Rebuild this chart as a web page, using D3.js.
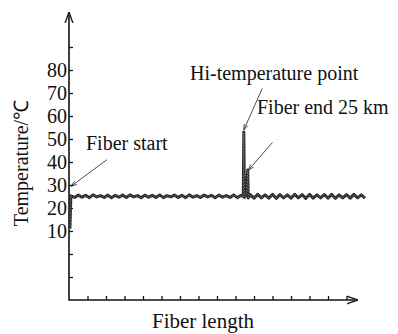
<!DOCTYPE html>
<html>
<head>
<meta charset="utf-8">
<script src="https://cdn.jsdelivr.net/npm/d3@7"></script>
<style>
  body { margin: 0; background: #fff; }
  svg text { font-family: "Liberation Serif", "Times New Roman", serif; fill: #111; }
</style>
</head>
<body>
<div id="chart"></div>
<script>
/* data (x in tick units along fiber, y in degC) */
var distance = [0.05, 0.1, 0.3, 0.5, 0.7, 0.9, 1.1, 1.3, 1.5, 1.7, 1.9, 2.1, 2.3, 2.5, 2.7, 2.9,
  3.1, 3.3, 3.5, 3.7, 3.9, 4.1, 4.3, 4.5, 4.7, 4.9, 5.1, 5.3, 5.5, 5.7, 5.9, 6.1, 6.3, 6.5,
  6.7, 6.9, 7.1, 7.3, 7.5, 7.7, 7.9, 8.1, 8.3, 8.5, 8.7, 8.9, 9.1, 9.3, 9.42, 9.45, 9.48,
  9.58, 9.66, 9.69, 9.8, 10.0, 10.2, 10.4, 10.6, 10.8, 11.0, 11.2, 11.4, 11.6, 11.8, 12.0,
  12.2, 12.4, 12.6, 12.8, 13.0, 13.2, 13.4, 13.6, 13.8, 14.0, 14.2, 14.4, 14.6, 14.8, 15.0,
  15.2, 15.4, 15.6, 15.8, 16.0];
var temperature = [11, 25.3, 24.6, 25.6, 24.7, 25.5, 24.5, 25.7, 24.8, 25.4, 24.6, 25.6, 24.5, 25.5,
  24.7, 25.6, 24.6, 25.7, 24.8, 25.4, 24.5, 25.6, 24.7, 25.5, 24.6, 25.7, 24.5, 25.4, 24.8,
  25.6, 24.6, 25.5, 24.5, 25.7, 24.7, 25.4, 24.6, 25.6, 24.8, 25.5, 24.5, 25.6, 24.7, 25.4,
  24.6, 25.7, 24.5, 25.5, 25.0, 53, 24.6, 25.5, 36.5, 24.4, 25.8, 24.3, 25.9, 24.4, 25.7, 24.3,
  25.9, 24.2, 25.8, 24.4, 25.7, 24.3, 25.9, 24.4, 25.8, 24.2, 25.9, 24.3, 25.7, 24.4, 25.8,
  24.3, 25.9, 24.2, 25.7, 24.4, 25.8, 24.3, 25.9, 24.4, 25.7, 24.3];
var yTicks = [-10, 0, 10, 20, 30, 40, 50, 60, 70, 80, 90];
var yLabels = [10, 20, 30, 40, 50, 60, 70, 80];
var xTicks = [1, 2, 3, 4, 5, 6, 7, 8, 9, 10, 11, 12, 13, 14, 15];
var notes = [
  { text: "Fiber start", tx: 86, ty: 150, x: 2.05, y: 41, px: 0.12, py: 29.5 },
  { text: "Hi-temperature point", tx: 190, ty: 80, x: 10.45, y: 72, px: 9.45, py: 54 },
  { text: "Fiber end 25 km", tx: 257, ty: 114, x: 11.0, y: 48.5, px: 9.7, py: 36.5 }
];

var W = 398, H = 334;
var x0 = 69, yBase = 300;

var x = d3.scaleLinear().domain([0, 16]).range([x0, x0 + 16 * 18.5]);
var y = d3.scaleLinear().domain([-20, 80]).range([yBase, 70]);

var svg = d3.select("#chart").append("svg").attr("width", W).attr("height", H);

svg.append("defs").append("marker")
  .attr("id", "ah").attr("viewBox", "0 0 10 10")
  .attr("refX", 10).attr("refY", 5)
  .attr("markerWidth", 7).attr("markerHeight", 7)
  .attr("orient", "auto-start-reverse")
  .append("path").attr("d", "M0,1.5 L10,5 L0,8.5").attr("fill", "none")
  .attr("stroke", "#222").attr("stroke-width", 1.3);

// y axis
var ya = svg.append("g").attr("transform", "translate(" + x0 + ",0)")
  .call(d3.axisLeft(y).tickValues(yTicks).tickSize(-4).tickPadding(2)
    .tickFormat(function(d) { return yLabels.indexOf(d) >= 0 ? d : ""; }));
ya.select(".domain").remove();
ya.selectAll("line").attr("stroke", "#111").attr("stroke-width", 1.3);
ya.selectAll("text").style("font-size", "20px").style("font-family", "Liberation Serif").attr("fill", "#111");

// x axis
var xa = svg.append("g").attr("transform", "translate(0," + yBase + ")")
  .call(d3.axisBottom(x).tickValues(xTicks).tickSize(-4).tickFormat(""));
xa.select(".domain").remove();
xa.selectAll("line").attr("stroke", "#111").attr("stroke-width", 1.3);

svg.append("line").attr("x1", x0).attr("y1", yBase + 0.5).attr("x2", x0).attr("y2", 12)
  .attr("stroke", "#111").attr("stroke-width", 1.6).attr("marker-end", "url(#ah)");
svg.append("line").attr("x1", x0).attr("y1", yBase).attr("x2", 358).attr("y2", yBase)
  .attr("stroke", "#111").attr("stroke-width", 1.6).attr("marker-end", "url(#ah)");

// data line
var data = distance.map(function(d, i) { return { d: d, t: temperature[i] }; });
var line = d3.line().x(function(p) { return x(p.d); }).y(function(p) { return y(p.t); });
svg.append("path").datum(data)
  .attr("fill", "none").attr("stroke", "#2a2a2a").attr("stroke-width", 3)
  .attr("stroke-linejoin", "round").attr("d", line);
svg.append("path").datum(data)
  .attr("fill", "none").attr("stroke", "#fff").attr("stroke-width", 0.8)
  .attr("stroke-dasharray", "1,2").attr("stroke-opacity", 0.6).attr("d", line);

// annotations
notes.forEach(function(n) {
  svg.append("text").attr("x", n.tx).attr("y", n.ty).style("font-size", "20px").text(n.text);
  svg.append("line").attr("x1", x(n.x)).attr("y1", y(n.y)).attr("x2", x(n.px)).attr("y2", y(n.py))
    .attr("stroke", "#222").attr("stroke-width", 0.8).attr("marker-end", "url(#ah)");
});

// axis titles
svg.append("text").attr("x", 203).attr("y", 328).attr("text-anchor", "middle")
  .style("font-size", "21px").text("Fiber length");
svg.append("text").attr("transform", "translate(28,163) rotate(-90)").attr("text-anchor", "middle")
  .style("font-size", "20px").text("Temperature/℃");
</script>
</body>
</html>
